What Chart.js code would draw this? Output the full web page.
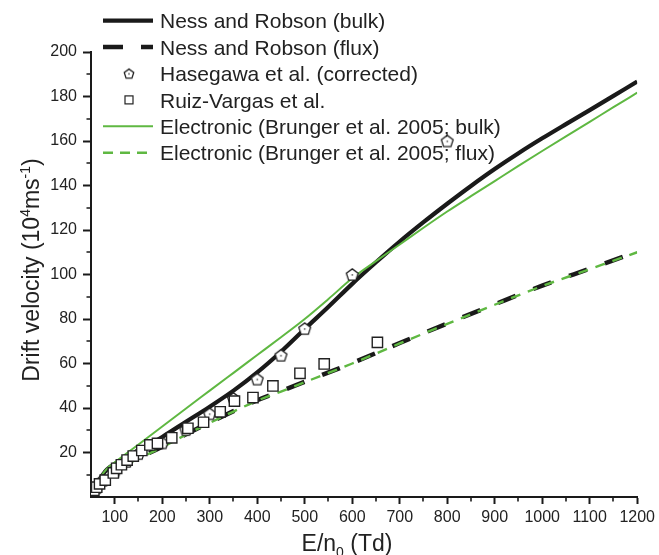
<!DOCTYPE html>
<html>
<head>
<meta charset="utf-8">
<title>Drift velocity</title>
<script src="https://cdn.jsdelivr.net/npm/chart.js@4.4.1/dist/chart.umd.min.js"></script>
<style>
body { margin: 0; background: #fff; }
</style>
</head>
<body>
<canvas id="chart" width="659" height="555"></canvas>
<script>
var FONT = '"Liberation Sans", Arial, Helvetica, sans-serif';
var INK = '#1a1a1a';
var GREEN = '#5fb842';

// Ness and Robson, bulk
var nessBulkE = [50, 60, 70, 80, 90, 100, 150, 200, 250, 300, 350, 400, 450, 500, 550, 600, 650, 700, 750, 800, 850, 900, 950, 1000, 1050, 1100, 1150, 1200];
var nessBulkV = [1.5, 5, 8.5, 11.5, 13.5, 14.8, 20.8, 27, 33.8, 40.6, 47.8, 56, 65.3, 75.5, 85.5, 95.8, 105.5, 114.8, 123.5, 131.8, 139.8, 147.4, 154.5, 161.2, 167.6, 173.9, 180.3, 186.7];

// Ness and Robson, flux
var nessFluxE = [100, 150, 200, 250, 300, 350, 400, 450, 500, 600, 700, 800, 900, 1000, 1100, 1200];
var nessFluxV = [12.5, 17.5, 22.6, 28.2, 33.5, 38.6, 43.5, 47.6, 51.8, 60.2, 69.2, 78, 86.6, 95, 102.6, 110.2];

// Electronic (Brunger et al. 2005), bulk
var brungerBulkE = [50, 60, 70, 80, 86, 100, 150, 200, 250, 300, 350, 400, 450, 500, 550, 600, 650, 700, 750, 800, 850, 900, 950, 1000, 1050, 1100, 1150, 1200];
var brungerBulkV = [2.4, 5.8, 9, 11.8, 13.3, 15.6, 23.6, 31.7, 39.8, 47.8, 55.8, 63.8, 71.8, 80, 89, 98.3, 106, 113.5, 121, 128.3, 135.2, 142, 148.8, 155.5, 162.1, 168.6, 175.2, 181.7];

// Electronic (Brunger et al. 2005), flux
var brungerFluxE = [100, 150, 200, 250, 300, 350, 400, 450, 500, 600, 700, 800, 900, 1000, 1100, 1200];
var brungerFluxV = [12.3, 17.2, 22.4, 28, 33.3, 38.4, 43.3, 47.4, 51.6, 60, 69, 77.8, 86.4, 94.8, 102.4, 110];

// Hasegawa et al. (corrected)
var hasegawaE = [62, 75, 100, 125, 150, 200, 250, 300, 350, 400, 450, 500, 600, 800];
var hasegawaV = [4.2, 7.5, 11.5, 16, 19.5, 24.3, 30.3, 37.4, 44.3, 53, 63.7, 75.7, 100, 160];

// Ruiz-Vargas et al.
var ruizE = [56, 62, 68, 80, 97, 104, 114, 126, 139, 157, 174, 190, 220, 254, 287, 322, 352, 391, 433, 490, 541, 653];
var ruizV = [3.0, 4.4, 5.9, 7.6, 10.8, 12.9, 14.5, 16.6, 18.4, 20.9, 23.4, 24.1, 26.6, 30.9, 33.6, 38.3, 43.1, 44.7, 49.9, 55.6, 59.8, 69.5];

var xTicks = [100, 200, 300, 400, 500, 600, 700, 800, 900, 1000, 1100, 1200];
var xMinor = [150, 250, 350, 450, 550, 650, 750, 850, 950, 1050, 1150];
var yTicks = [20, 40, 60, 80, 100, 120, 140, 160, 180, 200];
var yMinor = [10, 30, 50, 70, 90, 110, 130, 150, 170, 190];

function pts(xs, ys) {
	return xs.map(function(x, i){ return {x: x, y: ys[i]}; });
}

// hollow pentagon marker with a tiny centre dot
function pentagon(r) {
	var s = Math.ceil(r * 2 + 4);
	var c = document.createElement('canvas');
	c.width = s; c.height = s;
	var g = c.getContext('2d');
	g.beginPath();
	for (var i = 0; i < 5; i++) {
		var a = -Math.PI / 2 + i * 2 * Math.PI / 5;
		var px = s / 2 + r * Math.cos(a), py = s / 2 + 0.6 + r * Math.sin(a);
		if (i) g.lineTo(px, py); else g.moveTo(px, py);
	}
	g.closePath();
	g.fillStyle = '#fff';
	g.fill();
	g.lineWidth = 1.3;
	g.strokeStyle = '#222';
	g.stroke();
	g.fillStyle = '#333';
	g.fillRect(s / 2 - 0.7, s / 2 - 0.3, 1.4, 1.4);
	return c;
}

var pentBig = pentagon(6.2);
var pentSmall = pentagon(5);

// text with super/subscripts: parts = [[text, size, dy], ...]
function drawRich(ctx, parts, x, y) {
	parts.forEach(function(p){
		ctx.font = p[1] + 'px ' + FONT;
		ctx.fillText(p[0], x, y + p[2]);
		x += ctx.measureText(p[0]).width;
	});
}
function richWidth(ctx, parts) {
	var w = 0;
	parts.forEach(function(p){
		ctx.font = p[1] + 'px ' + FONT;
		w += ctx.measureText(p[0]).width;
	});
	return w;
}

var xTitle = [['E/n', 23, 0], ['0', 14, 6], [' (Td)', 23, 0]];
var yTitle = [['Drift velocity (10', 23, 0], ['4', 14, -9], ['ms', 23, 0], ['-1', 14, -9], [')', 23, 0]];

var decorations = {
	id: 'decorations',
	afterDraw: function(chart) {
		var ctx = chart.ctx;
		var xs = chart.scales.x, ys = chart.scales.y;
		var area = chart.chartArea;
		ctx.save();

		// minor ticks
		ctx.strokeStyle = INK;
		ctx.lineWidth = 1.6;
		ctx.beginPath();
		xMinor.forEach(function(v){
			var p = Math.round(xs.getPixelForValue(v));
			ctx.moveTo(p, area.bottom);
			ctx.lineTo(p, area.bottom + 4.5);
		});
		yMinor.forEach(function(v){
			var p = Math.round(ys.getPixelForValue(v));
			ctx.moveTo(area.left, p);
			ctx.lineTo(area.left - 4.5, p);
		});
		ctx.stroke();

		// axis titles
		ctx.fillStyle = '#222';
		ctx.textBaseline = 'alphabetic';
		ctx.textAlign = 'left';
		var w = richWidth(ctx, xTitle);
		drawRich(ctx, xTitle, 347 - w / 2, 551);

		ctx.save();
		ctx.translate(38.5, 270);
		ctx.rotate(-Math.PI / 2);
		w = richWidth(ctx, yTitle);
		drawRich(ctx, yTitle, -w / 2, 0);
		ctx.restore();

		// legend
		var rowY = 28.3, step = 26.4;
		chart.data.datasets.forEach(function(ds, i){
			var base = rowY + i * step;
			var mid = base - 7.6;
			ctx.save();
			if (ds.showLine) {
				ctx.strokeStyle = ds.borderColor;
				ctx.lineWidth = ds.borderWidth;
				ctx.setLineDash(ds.legendDash || []);
				ctx.beginPath();
				ctx.moveTo(103, mid);
				ctx.lineTo(153, mid);
				ctx.stroke();
			} else if (ds.pointStyle === 'rect') {
				ctx.fillStyle = '#fff';
				ctx.strokeStyle = '#222';
				ctx.lineWidth = 1.2;
				ctx.fillRect(125, mid - 4, 8, 8);
				ctx.strokeRect(125, mid - 4, 8, 8);
			} else {
				ctx.drawImage(pentSmall, 129 - pentSmall.width / 2, mid - pentSmall.height / 2);
			}
			ctx.restore();
			ctx.fillStyle = '#222';
			ctx.font = '21px ' + FONT;
			ctx.fillText(ds.label, 160, base);
		});
		ctx.restore();
	}
};

var ctx = document.getElementById('chart').getContext('2d');
var mychart = new Chart(ctx, {
	type: 'scatter',
	data: {
		datasets: [{
			label: 'Ness and Robson (bulk)',
			data: pts(nessBulkE, nessBulkV),
			showLine: true,
			borderColor: INK,
			borderWidth: 4.2,
			pointRadius: 0,
			cubicInterpolationMode: 'monotone',
			order: 6
		}, {
			label: 'Ness and Robson (flux)',
			data: pts(nessFluxE, nessFluxV),
			showLine: true,
			borderColor: INK,
			borderWidth: 4.5,
			borderDash: [19, 19],
			legendDash: [20, 18],
			pointRadius: 0,
			cubicInterpolationMode: 'monotone',
			order: 5
		}, {
			label: 'Hasegawa et al. (corrected)',
			data: pts(hasegawaE, hasegawaV),
			showLine: false,
			pointStyle: pentBig,
			order: 2
		}, {
			label: 'Ruiz-Vargas et al.',
			data: pts(ruizE, ruizV),
			showLine: false,
			pointStyle: 'rect',
			pointRadius: 7.3,
			borderColor: '#222',
			borderWidth: 1.4,
			backgroundColor: '#fff',
			order: 1
		}, {
			label: 'Electronic (Brunger et al. 2005; bulk)',
			data: pts(brungerBulkE, brungerBulkV),
			showLine: true,
			borderColor: GREEN,
			borderWidth: 2,
			pointRadius: 0,
			cubicInterpolationMode: 'monotone',
			order: 4
		}, {
			label: 'Electronic (Brunger et al. 2005; flux)',
			data: pts(brungerFluxE, brungerFluxV),
			showLine: true,
			borderColor: GREEN,
			borderWidth: 2.4,
			borderDash: [10, 8],
			legendDash: [10, 7],
			pointRadius: 0,
			cubicInterpolationMode: 'monotone',
			order: 3
		}]
	},
	options: {
		responsive: false,
		animation: false,
		layout: { padding: { top: 52, right: 21, left: 0, bottom: 0 } },
		plugins: {
			legend: { display: false },
			tooltip: { enabled: false }
		},
		scales: {
			x: {
				type: 'linear',
				min: 50,
				max: 1200,
				afterBuildTicks: function(s){ s.ticks = xTicks.map(function(v){ return {value: v}; }); },
				afterFit: function(s){ s.height = 58; },
				grid: { drawOnChartArea: false, tickLength: 7, tickWidth: 2, tickColor: INK },
				border: { color: INK, width: 2 },
				ticks: {
					color: '#222', font: { family: FONT, size: 16 }, padding: 4, maxRotation: 0, autoSkip: false,
					callback: function(v){ return String(v); }
				}
			},
			y: {
				type: 'linear',
				min: 0,
				max: 200,
				afterBuildTicks: function(s){ s.ticks = yTicks.map(function(v){ return {value: v}; }); },
				afterFit: function(s){ s.width = 91; },
				grid: { drawOnChartArea: false, tickLength: 8, tickWidth: 2, tickColor: INK },
				border: { color: INK, width: 2 },
				ticks: {
					color: '#222', font: { family: FONT, size: 16 }, padding: 6, autoSkip: false,
					callback: function(v){ return String(v); }
				}
			}
		}
	},
	plugins: [decorations]
});
</script>
</body>
</html>
